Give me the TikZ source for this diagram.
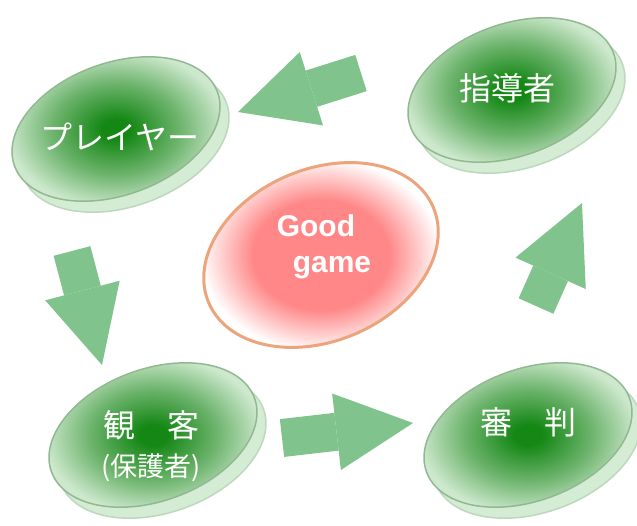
\documentclass[tikz,border=0pt]{standalone}
\usepackage{fontspec}
\newfontfamily\jpfont{Noto Sans CJK JP}
\newfontfamily\ggfont{Liberation Sans}
\usetikzlibrary{arrows.meta,shapes.geometric,shadows}

\definecolor{diskdark}{RGB}{20,135,20}
\definecolor{diskmid}{RGB}{110,180,110}
\definecolor{disklight}{RGB}{205,232,205}
\definecolor{diskline}{RGB}{145,185,145}
\definecolor{diskshadow}{RGB}{212,236,212}
\definecolor{diskshadowline}{RGB}{188,216,188}
\definecolor{ggpink}{RGB}{255,135,135}
\definecolor{ggline}{RGB}{236,164,124}
\definecolor{arrowgreen}{RGB}{128,195,140}

\pgfdeclareradialshading{diskshade}{\pgfpoint{0bp}{0bp}}{color(0bp)=(diskdark); color(3bp)=(diskdark); color(14bp)=(diskmid); color(24bp)=(disklight); color(50bp)=(disklight)}
\pgfdeclareradialshading{ggshade}{\pgfpoint{0bp}{0bp}}{color(0bp)=(ggpink); color(13bp)=(ggpink); color(23bp)=(white); color(50bp)=(white)}

\begin{document}
\begin{tikzpicture}[x=1pt,y=-1pt,
        disk/.style={ellipse,draw=diskline,line width=1.5pt,shading=diskshade,
            minimum width=216pt,minimum height=132pt,inner sep=0pt,rotate=20,
            general shadow={fill=diskshadow,draw=diskshadowline,line width=1.5pt,
                shadow xshift=9pt,shadow yshift=-11pt}},
        disk text/.style={text=white,font=\jpfont\fontsize{32}{39}\selectfont,
            align=center,inner sep=0pt},
        gg/.style={ellipse,draw=ggline,line width=3pt,shading=ggshade,
            minimum width=244pt,minimum height=172pt,inner sep=0pt,rotate=23},
        gg text/.style={text=white,font=\ggfont\bfseries\fontsize{30}{36}\selectfont,
            align=left,inner sep=0pt},
        big arrow/.style={draw=arrowgreen,line width=38pt,
            -{Triangle[length=77pt,width=77pt,line width=0pt]}}]

    \useasboundingbox (0,0) rectangle (637,525);

    \node[gg] (gg) at (321,255) {};
    \node[gg text] (ggt) at (324,247) {Good\\\hspace*{16pt}game};

    \node[disk] (ply) at (116,129) {};
    \node[disk text] (plyt) at (120,137) {プレイヤー};
    \node[disk] (cch) at (512,90) {};
    \node[disk text] (ccht) at (507,88) {指導者};
    \node[disk] (ref) at (528,435) {};
    \node[disk text] (reft) at (528,422) {審　判};
    \node[disk] (aud) at (153,435) {};
    \node[disk text] (audt) at (151,446) {観　客\\{\fontsize{27}{39}\selectfont(保護者)}};

    \coordinate (t1) at (72,251);
    \coordinate (h1) at (102,365);
    \coordinate (t2) at (282,438);
    \coordinate (h2) at (413,423);
    \coordinate (t3) at (536,306);
    \coordinate (h3) at (582,203);
    \coordinate (t4) at (361,73);
    \coordinate (h4) at (238,112);

    \path
    (t1) edge [big arrow] (h1)
    (t2) edge [big arrow] (h2)
    (t3) edge [big arrow] (h3)
    (t4) edge [big arrow] (h4)
    ;
\end{tikzpicture}
\end{document}
